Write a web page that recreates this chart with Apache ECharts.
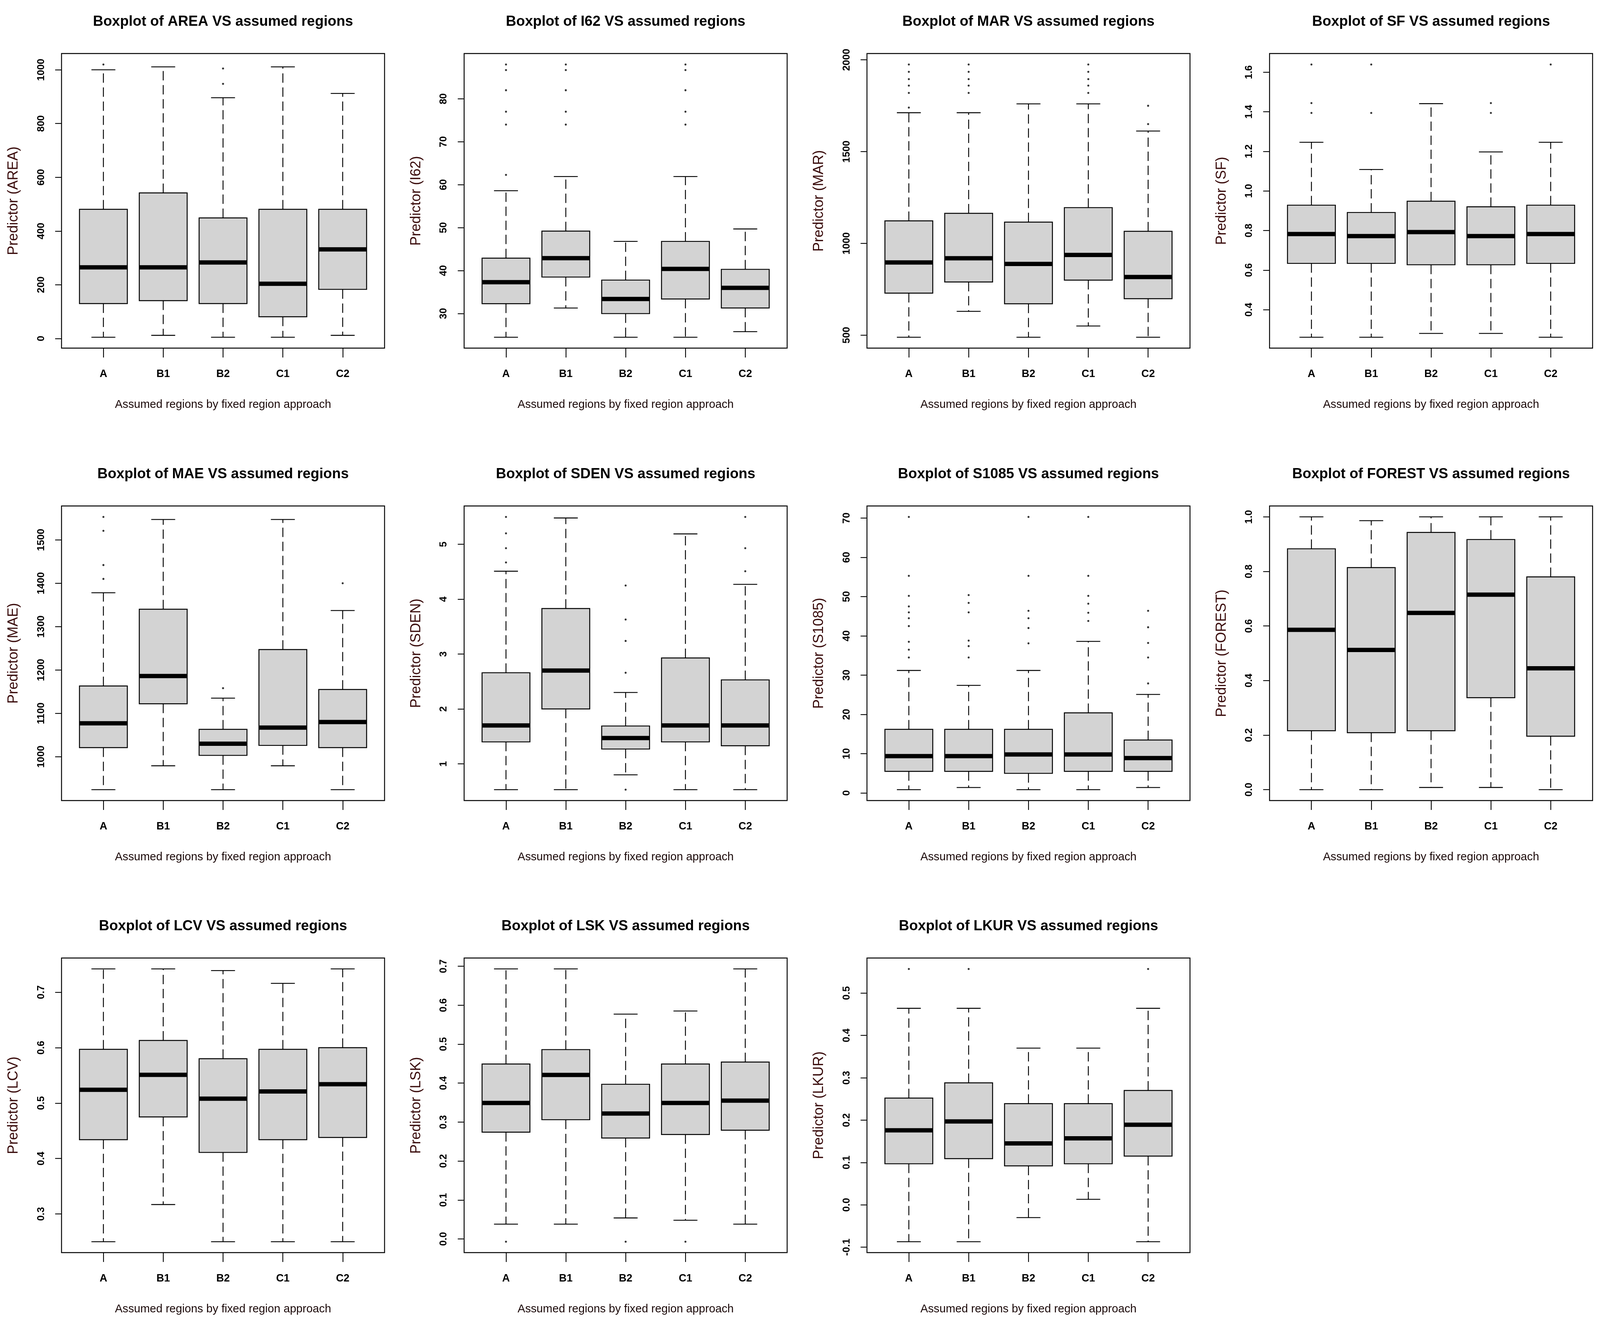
<!DOCTYPE html>
<html><head><meta charset="utf-8">
<script src="https://cdn.jsdelivr.net/npm/echarts@6/dist/echarts.min.js"></script>
<style>html,body{margin:0;padding:0;background:#fff;overflow:hidden}#c{position:absolute;left:0;top:0}</style>
</head><body><div id="c"></div>
<script>
// ---------------- DATA ----------------
const categories = ['A', 'B1', 'B2', 'C1', 'C2'];
// each row: [lower whisker, Q1, median, Q3, upper whisker] per category
const AREA_box = [[5,130,265,481,1000],[12,141,265,542,1011],[5,130,283,449,896],[5,81,204,481,1011],[12,183,332,481,912]];
const AREA_out = [[0,1020],[2,948],[2,1005]];
const AREA_ticks = [0,200,400,600,800,1000];

const I62_box = [[24.5,32.3,37.3,42.9,58.6],[31.3,38.5,42.9,49.2,61.9],[24.5,30,33.4,37.8,46.8],[24.5,33.4,40.4,46.8,61.9],[25.8,31.3,36,40.3,49.7]];
const I62_out = [[0,62.3],[0,74],[0,77],[0,82],[0,86.7],[0,88],[1,74],[1,77],[1,82],[1,86.7],[1,88],[3,74],[3,77],[3,82],[3,86.7],[3,88]];
const I62_ticks = [30,40,50,60,70,80];

const MAR_box = [[489,729,896,1123,1712],[630,790,919,1164,1712],[489,671,888,1116,1760],[550,800,937,1195,1760],[489,699,817,1066,1612]];
const MAR_out = [[0,1975],[0,1935],[0,1895],[0,1860],[0,1820],[0,1740],[1,1975],[1,1935],[1,1895],[1,1860],[1,1820],[3,1975],[3,1935],[3,1895],[3,1860],[3,1820],[4,1750],[4,1650]];
const MAR_ticks = [500,1000,1500,2000];

const SF_box = [[0.261,0.634,0.782,0.928,1.246],[0.261,0.634,0.772,0.891,1.108],[0.280,0.627,0.792,0.948,1.441],[0.280,0.627,0.772,0.920,1.197],[0.261,0.634,0.782,0.928,1.246]];
const SF_out = [[0,1.639],[0,1.444],[0,1.394],[1,1.639],[1,1.394],[3,1.444],[3,1.394],[4,1.639]];
const SF_ticks = [0.4,0.6,0.8,1.0,1.2,1.4,1.6];

const MAE_box = [[924,1021,1077,1163,1378],[979,1122,1186,1340,1547],[924,1003,1030,1063,1135],[979,1026,1067,1247,1547],[924,1021,1080,1155,1337]];
const MAE_out = [[0,1553],[0,1521],[0,1442],[0,1410],[2,1158],[4,1400]];
const MAE_ticks = [1000,1100,1200,1300,1400,1500];

const SDEN_box = [[0.53,1.40,1.70,2.66,4.51],[0.53,2.0,2.70,3.83,5.48],[0.80,1.27,1.47,1.69,2.30],[0.53,1.40,1.70,2.93,5.19],[0.53,1.33,1.70,2.53,4.27]];
const SDEN_out = [[0,5.50],[0,5.20],[0,4.93],[0,4.67],[2,0.53],[2,2.66],[2,3.24],[2,3.63],[2,4.25],[4,5.50],[4,4.93],[4,4.51]];
const SDEN_ticks = [1,2,3,4,5];

const S1085_box = [[0.85,5.5,9.4,16.2,31.2],[1.4,5.5,9.4,16.2,27.4],[0.85,5.0,9.8,16.2,31.2],[0.85,5.5,9.8,20.4,38.6],[1.4,5.5,8.9,13.5,25.1]];
const S1085_out = [[0,70.3],[0,55.3],[0,50.2],[0,47.5],[0,46],[0,44.5],[0,42.5],[0,38.5],[0,36.5],[0,34.5],
  [1,50.4],[1,48.4],[1,46],[1,38.8],[1,37.4],[1,34.5],
  [2,70.3],[2,55.3],[2,46.4],[2,44.5],[2,42],[2,38.1],
  [3,70.3],[3,55.3],[3,50.2],[3,48.2],[3,45.9],[3,43.8],
  [4,46.4],[4,42.2],[4,38.2],[4,34.5],[4,27.9]];
const S1085_ticks = [0,10,20,30,40,50,60,70];

const FOREST_box = [[0,0.216,0.586,0.883,1.0],[0,0.209,0.512,0.814,0.986],[0.008,0.216,0.648,0.943,1.0],[0.008,0.337,0.715,0.917,1.0],[0,0.196,0.445,0.780,1.0]];
const FOREST_out = [];
const FOREST_ticks = [0.0,0.2,0.4,0.6,0.8,1.0];

const LCV_box = [[0.250,0.434,0.524,0.597,0.742],[0.317,0.475,0.551,0.613,0.742],[0.250,0.411,0.508,0.580,0.739],[0.250,0.434,0.521,0.597,0.716],[0.250,0.438,0.534,0.600,0.742]];
const LCV_out = [];
const LCV_ticks = [0.3,0.4,0.5,0.6,0.7];

const LSK_box = [[0.038,0.274,0.349,0.449,0.693],[0.038,0.306,0.421,0.486,0.693],[0.054,0.259,0.322,0.397,0.577],[0.048,0.268,0.349,0.449,0.585],[0.038,0.279,0.355,0.454,0.693]];
const LSK_out = [[0,-0.007],[2,-0.007],[3,-0.007]];
const LSK_ticks = [0.0,0.1,0.2,0.3,0.4,0.5,0.6,0.7];

const LKUR_box = [[-0.087,0.097,0.176,0.252,0.464],[-0.087,0.109,0.197,0.288,0.464],[-0.030,0.092,0.145,0.239,0.370],[0.013,0.097,0.157,0.239,0.370],[-0.087,0.115,0.189,0.270,0.464]];
const LKUR_out = [[0,0.557],[1,0.557],[4,0.557]];
const LKUR_ticks = [-0.1,0.0,0.1,0.2,0.3,0.4,0.5];

const panels = [
  {name:'AREA', box:AREA_box, out:AREA_out, ticks:AREA_ticks, dec:0},
  {name:'I62', box:I62_box, out:I62_out, ticks:I62_ticks, dec:0},
  {name:'MAR', box:MAR_box, out:MAR_out, ticks:MAR_ticks, dec:0},
  {name:'SF', box:SF_box, out:SF_out, ticks:SF_ticks, dec:1},
  {name:'MAE', box:MAE_box, out:MAE_out, ticks:MAE_ticks, dec:0},
  {name:'SDEN', box:SDEN_box, out:SDEN_out, ticks:SDEN_ticks, dec:0},
  {name:'S1085', box:S1085_box, out:S1085_out, ticks:S1085_ticks, dec:0},
  {name:'FOREST', box:FOREST_box, out:FOREST_out, ticks:FOREST_ticks, dec:1},
  {name:'LCV', box:LCV_box, out:LCV_out, ticks:LCV_ticks, dec:1},
  {name:'LSK', box:LSK_box, out:LSK_out, ticks:LSK_ticks, dec:1},
  {name:'LKUR', box:LKUR_box, out:LKUR_out, ticks:LKUR_ticks, dec:1}
];

// ---------------- LAYOUT (designed for 6033 x 3422, scaled to the viewport) ----------------
const W = window.innerWidth || 6033, H = window.innerHeight || 3422;
const sx = W / 6033, sy = H / 3422;
const s = Math.min(sx, sy);
const sr = Math.sqrt(sx * sy);          // for rotated text (length runs vertically)
const el = document.getElementById('c');
el.style.width = W + 'px'; el.style.height = H + 'px';

const colLeft = [232, 1750, 3269, 4787];
const rowTop = [137, 1295, 2452];
const frameW = 1218, frameH = 754;
const FONT = '"Liberation Sans", Arial, sans-serif';

const F_TITLE = 54 * sx, F_XNAME = 43 * sx, F_CAT = 40 * sx, F_TICK = 31 * sr, F_YNAME = 44 * sr;

const grids = [], xAxes = [], yAxes = [], series = [], titles = [];

panels.forEach((p, i) => {
  const col = i % 4, row = Math.floor(i / 4);
  const left = colLeft[col] * sx, top = rowTop[row] * sy;
  // y range like R: data range extended by 4%
  let lo = Infinity, hi = -Infinity;
  p.box.forEach(b => { lo = Math.min(lo, b[0]); hi = Math.max(hi, b[4]); });
  p.out.forEach(o => { lo = Math.min(lo, o[1]); hi = Math.max(hi, o[1]); });
  const pad = (hi - lo) * 0.04;

  grids.push({left: left, top: top, width: frameW * sx, height: frameH * sy, show: true,
    borderColor: '#000', borderWidth: 3.5 * s, backgroundColor: 'rgba(0,0,0,0)'});

  xAxes.push({gridIndex: i, type: 'value', min: 0.3, max: 5.7,
    axisLine: {show: false, onZero: false},
    splitLine: {show: false},
    axisTick: {show: true, length: 24 * sy, lineStyle: {color: '#000', width: 3.2 * s}, customValues: [1,2,3,4,5]},
    axisLabel: {customValues: [1,2,3,4,5], formatter: v => categories[Math.round(v) - 1],
      fontSize: F_CAT, fontWeight: 'bold', color: '#000', margin: 67 * sy - F_CAT * 0.5, fontFamily: FONT},
    name: 'Assumed regions by fixed region approach', nameLocation: 'middle', nameGap: 145 * sy - F_XNAME * 0.5,
    nameTextStyle: {fontSize: F_XNAME, color: '#1a0808', fontFamily: FONT}
  });

  yAxes.push({gridIndex: i, type: 'value', min: lo - pad, max: hi + pad,
    axisLine: {show: false, onZero: false},
    splitLine: {show: false},
    axisTick: {show: true, length: 24 * sx, lineStyle: {color: '#000', width: 3.2 * s}, customValues: p.ticks},
    axisLabel: {customValues: p.ticks, rotate: 90, formatter: v => Number(v).toFixed(p.dec),
      fontSize: F_TICK, fontWeight: 'bold', color: '#000', margin: 76 * sx - F_TICK * 0.5, fontFamily: FONT},
    name: 'Predictor (' + p.name + ')', nameLocation: 'middle', nameRotate: 90, nameGap: 180 * sx - F_YNAME * 0.5,
    nameTextStyle: {fontSize: F_YNAME, color: '#3a0c0c', fontFamily: FONT}
  });

  titles.push({text: 'Boxplot of ' + p.name + ' VS assumed regions', padding: 0,
    left: left + frameW * sx / 2, top: (rowTop[row] - 81) * sy - F_TITLE * 0.5, textAlign: 'center',
    textStyle: {fontSize: F_TITLE, fontWeight: 'bold', color: '#000', fontFamily: FONT}});

  series.push({type: 'custom', xAxisIndex: i, yAxisIndex: i, silent: true,
    data: p.box.map((b, k) => [k + 1, b[0], b[1], b[2], b[3], b[4]]),
    encode: {x: 0, y: [1, 2, 3, 4, 5]},
    renderItem: (params, api) => {
      const x = api.value(0);
      const pLo = api.coord([x, api.value(1)]);
      const pQ1 = api.coord([x, api.value(2)]);
      const pMed = api.coord([x, api.value(3)]);
      const pQ3 = api.coord([x, api.value(4)]);
      const pHi = api.coord([x, api.value(5)]);
      const w = api.size([0.8, 0])[0];
      const cx = pLo[0];
      const dash = {stroke: '#000', lineWidth: 3.4 * s, lineDash: [24 * sy, 12 * sy]};
      const solid = {stroke: '#000', lineWidth: 3.4 * s};
      return {type: 'group', children: [
        {type: 'line', shape: {x1: cx, y1: pQ3[1], x2: cx, y2: pHi[1]}, style: dash},
        {type: 'line', shape: {x1: cx, y1: pQ1[1], x2: cx, y2: pLo[1]}, style: dash},
        {type: 'line', shape: {x1: cx - w / 4, y1: pHi[1], x2: cx + w / 4, y2: pHi[1]}, style: solid},
        {type: 'line', shape: {x1: cx - w / 4, y1: pLo[1], x2: cx + w / 4, y2: pLo[1]}, style: solid},
        {type: 'rect', shape: {x: cx - w / 2, y: pQ3[1], width: w, height: pQ1[1] - pQ3[1]},
          style: {fill: '#d3d3d3', stroke: '#000', lineWidth: 3.6 * s}},
        {type: 'line', shape: {x1: cx - w / 2, y1: pMed[1], x2: cx + w / 2, y2: pMed[1]},
          style: {stroke: '#000', lineWidth: 11 * sy}}
      ]};
    }
  });

  series.push({type: 'scatter', xAxisIndex: i, yAxisIndex: i, silent: true,
    data: p.out.map(o => [o[0] + 1, o[1]]), symbol: 'circle', symbolSize: 7.5 * s,
    itemStyle: {color: '#000'}});
});

const chart = echarts.init(el, null, {renderer: 'canvas'});
chart.setOption({animation: false, backgroundColor: '#fff', title: titles,
  grid: grids, xAxis: xAxes, yAxis: yAxes, series: series});
</script>
</body></html>
